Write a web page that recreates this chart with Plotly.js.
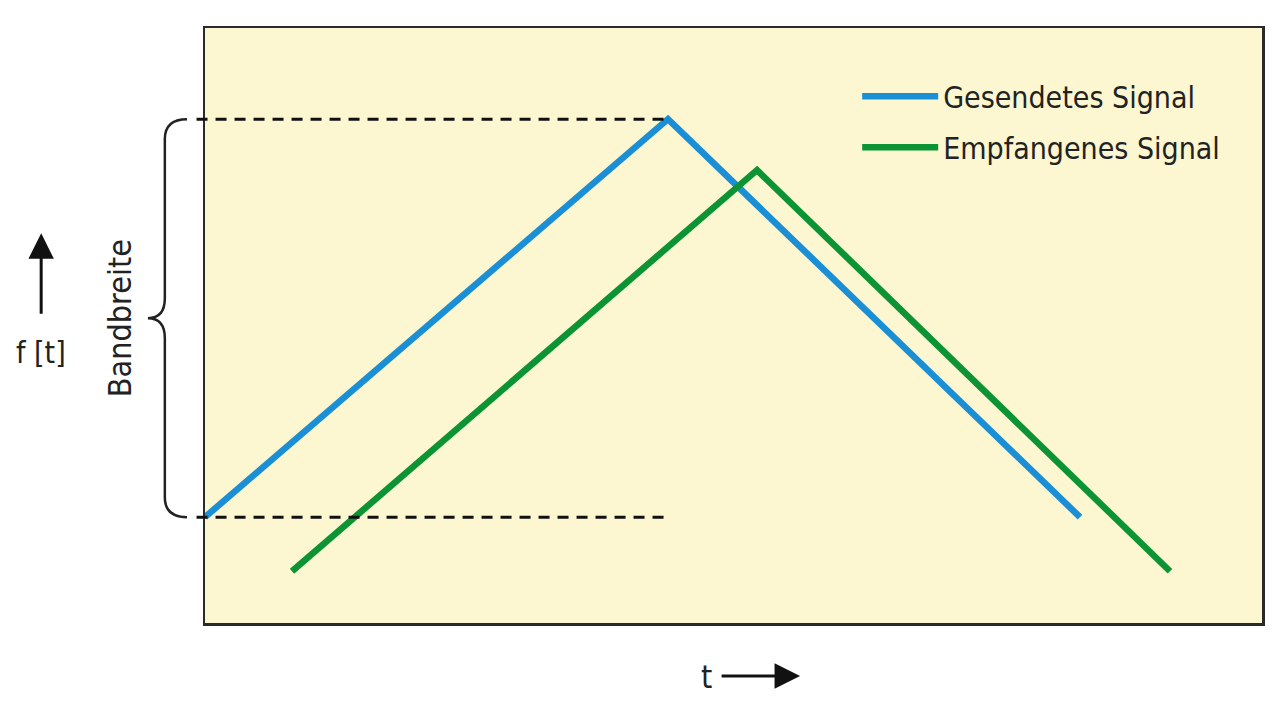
<!DOCTYPE html>
<html>
<head>
<meta charset="utf-8">
<script src="https://cdn.plot.ly/plotly-3.0.1.min.js"></script>
<style>html,body{margin:0;padding:0;background:#fff;}#chart{width:1280px;height:719px;}</style>
</head>
<body>
<div id="chart"></div>
<script>
// Data (t in arbitrary time units, f in arbitrary frequency units)
const seriesNames = ["Gesendetes Signal", "Empfangenes Signal"];
const sentT = [0, 4.63, 8.75];
const sentF = [0, 10, 0];
const recvT = [0.87, 5.52, 9.65];
const recvF = [-1.36, 8.72, -1.36];
const bandLow = 0;
const bandHigh = 10;
const bandLabel = "Bandbreite";
const yLabel = "f [t]";
const xLabel = "t";

const xRange = [0, 10.57];
const yRange = [-2.66, 12.29];
const FONT = '"Liberation Sans Narrow", "DejaVu Sans Condensed", "Open Sans", sans-serif';

const peakT = sentT[1];
const px = t => (t - xRange[0]) / (xRange[1] - xRange[0]);

const traces = [
  {x: sentT, y: sentF, name: seriesNames[0], legendgroup: 'a', mode: 'lines', line: {color: '#1a8fd6', width: 6.5}},
  {x: recvT, y: recvF, name: seriesNames[1], legendgroup: 'b', mode: 'lines', line: {color: '#0c9434', width: 6.5}}
];

const braceX0 = -0.017, braceX1 = -0.038, braceTip = -0.054;
const bandMid = (bandLow + bandHigh) / 2;
const r = 0.5;
const bracePath = `M ${braceX0},${bandHigh} Q ${braceX1},${bandHigh} ${braceX1},${bandHigh - r} ` +
  `L ${braceX1},${bandMid + r} Q ${braceX1},${bandMid} ${braceTip},${bandMid} ` +
  `Q ${braceX1},${bandMid} ${braceX1},${bandMid - r} L ${braceX1},${bandLow + r} ` +
  `Q ${braceX1},${bandLow} ${braceX0},${bandLow}`;

const layout = {
  width: 1280, height: 719,
  margin: {l: 205, r: 18, t: 28, b: 96},
  paper_bgcolor: '#ffffff',
  plot_bgcolor: '#fcf6d1',
  showlegend: true,
  legend: {x: 0.617, y: 0.929, xanchor: 'left', yanchor: 'top', bgcolor: 'rgba(0,0,0,0)',
           font: {family: FONT, size: 30, color: '#222'}, itemwidth: 76, tracegroupgap: 9},
  xaxis: {range: xRange, showgrid: false, zeroline: false, showticklabels: false, ticks: '',
          showline: true, mirror: true, linecolor: '#2a2a2a', linewidth: 2.5, fixedrange: true},
  yaxis: {range: yRange, showgrid: false, zeroline: false, showticklabels: false, ticks: '',
          showline: true, mirror: true, linecolor: '#2a2a2a', linewidth: 2.5, fixedrange: true},
  shapes: [
    {type: 'line', xref: 'paper', yref: 'y', x0: -0.008, x1: px(peakT), y0: bandHigh, y1: bandHigh,
     line: {color: '#111', width: 3, dash: '11px,8px'}},
    {type: 'line', xref: 'paper', yref: 'y', x0: -0.008, x1: px(peakT), y0: bandLow, y1: bandLow,
     line: {color: '#111', width: 3, dash: '11px,8px'}},
    {type: 'path', xref: 'paper', yref: 'y', path: bracePath, line: {color: '#222', width: 2.5}}
  ],
  annotations: [
    {xref: 'paper', yref: 'y', x: -0.0804, y: bandMid, xanchor: 'center', yanchor: 'middle',
     text: bandLabel, textangle: -90, showarrow: false,
     font: {family: FONT, size: 32, color: '#222'}},
    {xref: 'paper', yref: 'paper', x: -0.155, y: 0.455, xanchor: 'center', yanchor: 'middle',
     text: yLabel, showarrow: false,
     font: {family: FONT, size: 30, color: '#222'}},
    {xref: 'paper', yref: 'paper', x: -0.155, y: 0.655, ax: 0, ay: 82, axref: 'pixel', ayref: 'pixel', text: '',
     showarrow: true, arrowhead: 2, arrowsize: 1.7, arrowwidth: 3, arrowcolor: '#111'},
    {xref: 'paper', yref: 'paper', x: 0.474, y: -0.0908, xanchor: 'center', yanchor: 'middle',
     text: xLabel, showarrow: false,
     font: {family: FONT, size: 32, color: '#222'}},
    {xref: 'paper', yref: 'paper', x: 0.563, y: -0.089, ax: -80, ay: 0, axref: 'pixel', ayref: 'pixel', text: '',
     showarrow: true, arrowhead: 2, arrowsize: 1.7, arrowwidth: 3, arrowcolor: '#111'}
  ]
};

Plotly.newPlot('chart', traces, layout, {displayModeBar: false, staticPlot: true});
</script>
</body>
</html>
